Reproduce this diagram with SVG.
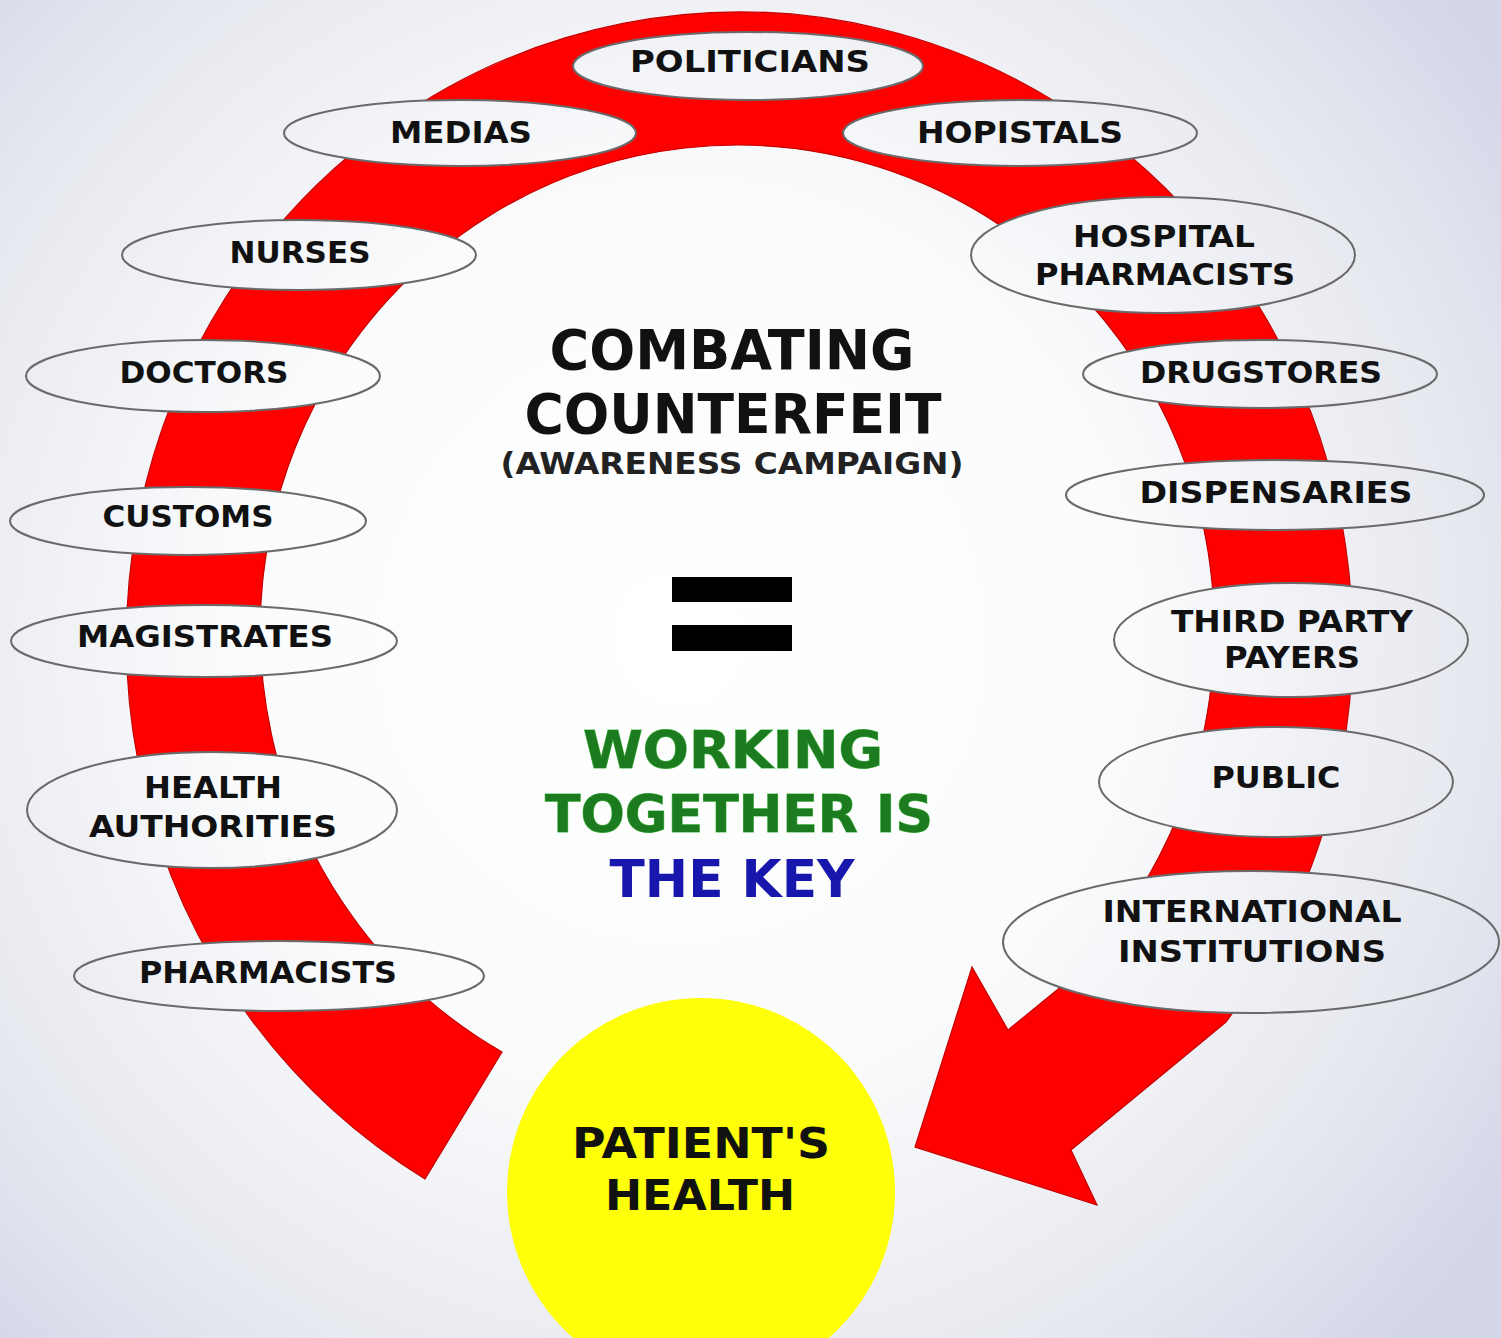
<svg xmlns="http://www.w3.org/2000/svg" width="1501" height="1338" viewBox="0 0 1501 1338">
  <defs>
    <radialGradient id="bg" gradientUnits="userSpaceOnUse" cx="680" cy="640" r="1000">
      <stop offset="0" stop-color="#ffffff"/>
      <stop offset="0.45" stop-color="#fafbfc"/>
      <stop offset="0.8" stop-color="#e6e8ef"/>
      <stop offset="1" stop-color="#d4d6e9"/>
    </radialGradient>
  </defs>
  <style>
    .node ellipse { fill: url(#bg); stroke: #6a6a6a; stroke-width: 2; }
    .lbl { font-family: "DejaVu Sans", Verdana, sans-serif; font-weight: bold; font-size: 31px; fill: #111; text-anchor: middle; }
    .big { font-family: "DejaVu Sans", Verdana, sans-serif; font-weight: bold; text-anchor: middle; }
    .green { fill: #1c7a1f; stroke: #4cbf4c; stroke-width: 1; paint-order: stroke; }
    .blue { fill: #1717ad; }
    .band { fill: #ff0000; stroke: #c40000; stroke-width: 1.2; }
  </style>

  <rect x="0" y="0" width="1501" height="1338" fill="url(#bg)"/>

  <g id="connectors">
    <path class="band" d="M 425 1179 A 613 628 0 1 1 1226 1022 L 1071 1150 L 1097 1205 L 915 1147 L 972 967 L 1008 1030 L 1057 990 A 477 485 0 1 0 502 1052 Z"/>
  </g>

  <g id="node-politicians" class="node">
    <ellipse cx="748" cy="66" rx="175" ry="34"/>
    <text class="lbl" x="750" y="72" textLength="240" lengthAdjust="spacingAndGlyphs">POLITICIANS</text>
  </g>
  <g id="node-medias" class="node">
    <ellipse cx="460" cy="133" rx="176" ry="33"/>
    <text class="lbl" x="461" y="143" textLength="142" lengthAdjust="spacingAndGlyphs">MEDIAS</text>
  </g>
  <g id="node-hopistals" class="node">
    <ellipse cx="1020" cy="133" rx="177" ry="33"/>
    <text class="lbl" x="1020" y="143" textLength="206" lengthAdjust="spacingAndGlyphs">HOPISTALS</text>
  </g>
  <g id="node-nurses" class="node">
    <ellipse cx="299" cy="255" rx="177" ry="35"/>
    <text class="lbl" x="300" y="263" textLength="141" lengthAdjust="spacingAndGlyphs">NURSES</text>
  </g>
  <g id="node-hospital-pharmacists" class="node">
    <ellipse cx="1163" cy="255" rx="192" ry="58"/>
    <text class="lbl" x="1164" y="247" textLength="182" lengthAdjust="spacingAndGlyphs">HOSPITAL</text>
    <text class="lbl" x="1165" y="285" textLength="260" lengthAdjust="spacingAndGlyphs">PHARMACISTS</text>
  </g>
  <g id="node-doctors" class="node">
    <ellipse cx="203" cy="376" rx="177" ry="36"/>
    <text class="lbl" x="204" y="383" textLength="169" lengthAdjust="spacingAndGlyphs">DOCTORS</text>
  </g>
  <g id="node-drugstores" class="node">
    <ellipse cx="1260" cy="374" rx="177" ry="34"/>
    <text class="lbl" x="1261" y="383" textLength="242" lengthAdjust="spacingAndGlyphs">DRUGSTORES</text>
  </g>
  <g id="node-customs" class="node">
    <ellipse cx="188" cy="521" rx="178" ry="34"/>
    <text class="lbl" x="188" y="527" textLength="171" lengthAdjust="spacingAndGlyphs">CUSTOMS</text>
  </g>
  <g id="node-dispensaries" class="node">
    <ellipse cx="1275" cy="495" rx="209" ry="35"/>
    <text class="lbl" x="1276" y="503" textLength="273" lengthAdjust="spacingAndGlyphs">DISPENSARIES</text>
  </g>
  <g id="node-magistrates" class="node">
    <ellipse cx="204" cy="641" rx="193" ry="36"/>
    <text class="lbl" x="205" y="647" textLength="256" lengthAdjust="spacingAndGlyphs">MAGISTRATES</text>
  </g>
  <g id="node-third-party-payers" class="node">
    <ellipse cx="1291" cy="640" rx="177" ry="57"/>
    <text class="lbl" x="1292" y="632" textLength="242" lengthAdjust="spacingAndGlyphs">THIRD PARTY</text>
    <text class="lbl" x="1292" y="668" textLength="136" lengthAdjust="spacingAndGlyphs">PAYERS</text>
  </g>
  <g id="node-health-authorities" class="node">
    <ellipse cx="212" cy="810" rx="185" ry="58"/>
    <text class="lbl" x="213" y="798" textLength="138" lengthAdjust="spacingAndGlyphs">HEALTH</text>
    <text class="lbl" x="213" y="837" textLength="248" lengthAdjust="spacingAndGlyphs">AUTHORITIES</text>
  </g>
  <g id="node-public" class="node">
    <ellipse cx="1276" cy="782" rx="177" ry="55"/>
    <text class="lbl" x="1276" y="788" textLength="129" lengthAdjust="spacingAndGlyphs">PUBLIC</text>
  </g>
  <g id="node-international-institutions" class="node">
    <ellipse cx="1251" cy="942" rx="248" ry="71"/>
    <text class="lbl" x="1252" y="922" textLength="299" lengthAdjust="spacingAndGlyphs">INTERNATIONAL</text>
    <text class="lbl" x="1252" y="962" textLength="268" lengthAdjust="spacingAndGlyphs">INSTITUTIONS</text>
  </g>
  <g id="node-pharmacists" class="node">
    <ellipse cx="279" cy="976" rx="205" ry="35"/>
    <text class="lbl" x="268" y="983" textLength="258" lengthAdjust="spacingAndGlyphs">PHARMACISTS</text>
  </g>

  <g id="node-patients-health">
    <circle cx="701" cy="1192" r="194" fill="#ffff0a"/>
    <text class="big" x="701" y="1158" font-size="42" fill="#111" textLength="258" lengthAdjust="spacingAndGlyphs">PATIENT'S</text>
    <text class="big" x="700" y="1210" font-size="42" fill="#111" textLength="190" lengthAdjust="spacingAndGlyphs">HEALTH</text>
  </g>

  <g id="title">
    <text class="big" x="732" y="369" font-size="56" fill="#111" textLength="365" lengthAdjust="spacingAndGlyphs">COMBATING</text>
    <text class="big" x="733" y="433" font-size="56" fill="#111" textLength="417" lengthAdjust="spacingAndGlyphs">COUNTERFEIT</text>
    <text class="big" x="732" y="474" font-size="30" fill="#222" textLength="463" lengthAdjust="spacingAndGlyphs">(AWARENESS CAMPAIGN)</text>
  </g>

  <g id="equals">
    <rect x="672" y="577" width="120" height="25" fill="#000"/>
    <rect x="672" y="625" width="120" height="26" fill="#000"/>
  </g>

  <g id="motto">
    <text class="big green" x="733" y="768" font-size="51" textLength="300" lengthAdjust="spacingAndGlyphs">WORKING</text>
    <text class="big green" x="739" y="832" font-size="51" textLength="388" lengthAdjust="spacingAndGlyphs">TOGETHER IS</text>
    <text class="big blue" x="732" y="897" font-size="51" textLength="245" lengthAdjust="spacingAndGlyphs">THE KEY</text>
  </g>
</svg>
